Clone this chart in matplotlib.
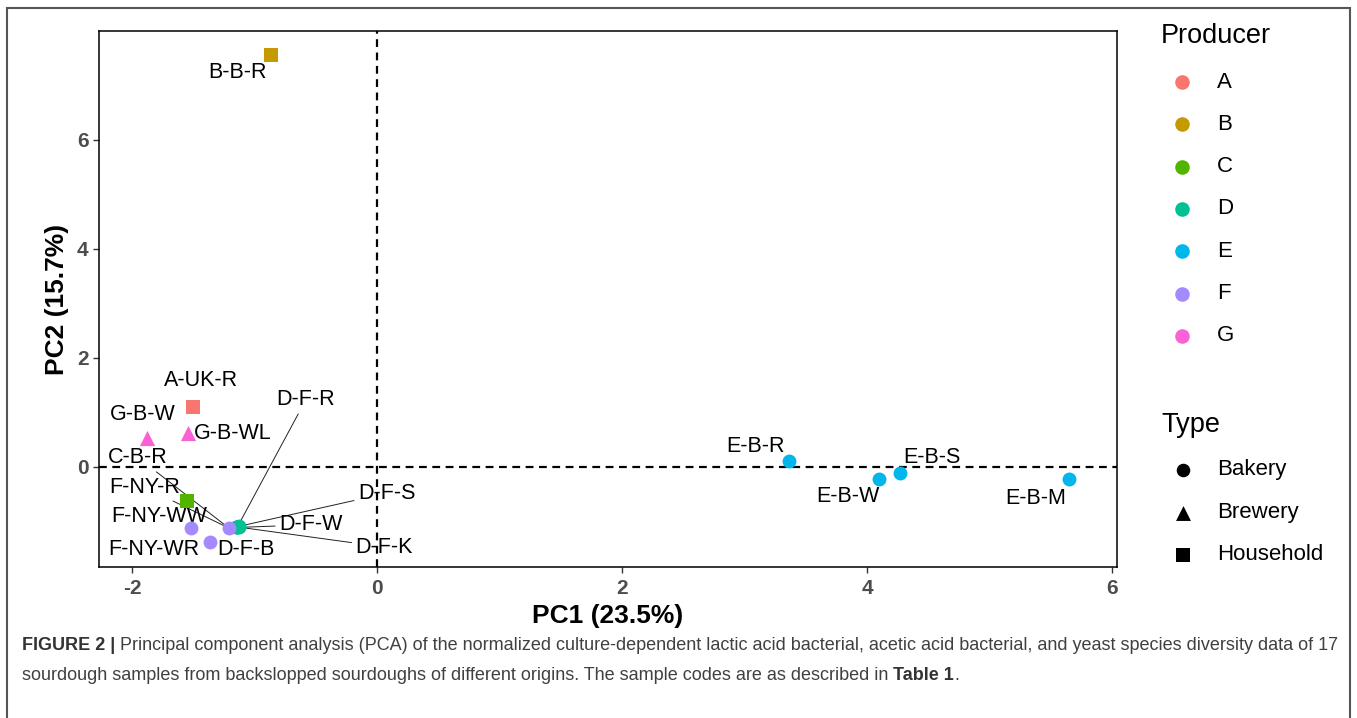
import matplotlib
matplotlib.use("Agg")
import matplotlib.pyplot as plt
from matplotlib.patches import Rectangle

plt.rcParams['font.family'] = ['Liberation Sans', 'DejaVu Sans']
plt.rcParams['axes.unicode_minus'] = False

# sample scores on the first two principal components
samples = ['B-B-R', 'A-UK-R', 'G-B-W', 'G-B-WL', 'C-B-R',
           'D-F-R', 'D-F-S', 'D-F-W', 'D-F-K', 'D-F-B',
           'F-NY-R', 'F-NY-WW', 'F-NY-WR',
           'E-B-R', 'E-B-W', 'E-B-S', 'E-B-M']
pc1 = [-0.87, -1.50, -1.88, -1.54, -1.55,
       -1.14, -1.13, -1.15, -1.14, -1.13,
       -1.21, -1.52, -1.36,
       3.36, 4.10, 4.27, 5.65]
pc2 = [7.56, 1.10, 0.53, 0.62, -0.62,
       -1.10, -1.09, -1.11, -1.10, -1.10,
       -1.12, -1.12, -1.38,
       0.11, -0.22, -0.11, -0.22]
producer = ['B', 'A', 'G', 'G', 'C',
            'D', 'D', 'D', 'D', 'D',
            'F', 'F', 'F',
            'E', 'E', 'E', 'E']
stype = ['Household', 'Household', 'Brewery', 'Brewery', 'Household',
         'Bakery', 'Bakery', 'Bakery', 'Bakery', 'Bakery',
         'Bakery', 'Bakery', 'Bakery',
         'Bakery', 'Bakery', 'Bakery', 'Bakery']

producers = ['A', 'B', 'C', 'D', 'E', 'F', 'G']
types = ['Bakery', 'Brewery', 'Household']

# ggplot default hue palette
colors = dict(zip(producers, ['#F8766D', '#C49A00', '#53B400', '#00C094',
                              '#00B6EB', '#A58AFF', '#FB61D7']))
markers = {'Bakery': 'o', 'Brewery': '^', 'Household': 's'}

# label placement (repel-style), and which point the leader line goes to
label_pos = {
    'B-B-R': (-1.14, 7.23), 'A-UK-R': (-1.44, 1.58), 'G-B-W': (-1.91, 0.97),
    'G-B-WL': (-1.18, 0.62), 'C-B-R': (-1.95, 0.17), 'F-NY-R': (-1.90, -0.37),
    'F-NY-WW': (-1.78, -0.90), 'F-NY-WR': (-1.82, -1.52), 'D-F-B': (-1.07, -1.52),
    'D-F-R': (-0.58, 1.24), 'D-F-S': (0.08, -0.48), 'D-F-W': (-0.54, -1.06),
    'D-F-K': (0.06, -1.47),
    'E-B-R': (3.09, 0.37), 'E-B-W': (3.84, -0.55), 'E-B-S': (4.53, 0.17),
    'E-B-M': (5.38, -0.57),
}
leaders = {'C-B-R': 'F-NY-R', 'F-NY-R': 'F-NY-R', 'D-F-R': 'D-F-R',
           'D-F-S': 'D-F-S', 'D-F-W': 'D-F-W', 'D-F-K': 'D-F-K'}

W, H = 1357, 718
fig = plt.figure(figsize=(W / 100, H / 100), dpi=100)

# outer frame of the figure panel
fig.patches.append(Rectangle((7 / W, -0.01), (1350 - 7) / W, (H - 8) / H + 0.01,
                             transform=fig.transFigure, fill=False,
                             edgecolor='#555555', linewidth=1.5))

ax = fig.add_axes([99 / W, (H - 567) / H, (1117 - 99) / W, (567 - 31) / H])
ax.set_xlim(-2.27, 6.04)
ax.set_ylim(-1.835, 8.0)

ax.axhline(0, color='black', lw=1.6, ls=(0, (3.5, 2.5)), zorder=1)
ax.axvline(0, color='black', lw=1.6, ls=(0, (3.5, 2.5)), zorder=1)

LBL = 15.5
idx = {s: i for i, s in enumerate(samples)}
for s in samples:
    lx, ly = label_pos[s]
    if s in leaders:
        j = idx[leaders[s]]
        ax.annotate(s, xy=(pc1[j], pc2[j]), xytext=(lx, ly), fontsize=LBL,
                    ha='center', va='center', zorder=2,
                    arrowprops=dict(arrowstyle='-', lw=0.7, color='#222222',
                                    shrinkA=1, shrinkB=0))
    else:
        ax.text(lx, ly, s, fontsize=LBL, ha='center', va='center', zorder=2)

for i, s in enumerate(samples):
    ms = 100 if stype[i] != 'Brewery' else 120
    ax.scatter(pc1[i], pc2[i], s=ms, marker=markers[stype[i]],
               color=colors[producer[i]], linewidths=0, zorder=3)

ax.set_xticks([-2, 0, 2, 4, 6])
ax.set_yticks([0, 2, 4, 6])
ax.tick_params(direction='out', length=4, width=1, color='#333333',
               labelsize=15, labelcolor='#4D4D4D')
ax.tick_params(axis='x', pad=5)
for t in ax.get_xticklabels() + ax.get_yticklabels():
    t.set_fontweight('bold')
for sp in ax.spines.values():
    sp.set_linewidth(1.1)
ax.set_xlabel('PC1 (23.5%)', fontsize=19, fontweight='bold', labelpad=4)
ax.set_ylabel('PC2 (15.7%)', fontsize=19, fontweight='bold', labelpad=6)

# legends drawn on a pixel-coordinate overlay
lg = fig.add_axes([0, 0, 1, 1], facecolor='none')
lg.set_xlim(0, W)
lg.set_ylim(H, 0)
lg.axis('off')
lg.text(1161, 36, 'Producer', fontsize=19.5, va='center', ha='left')
for k, p in enumerate(producers):
    y = 82 + k * 42.3
    lg.scatter(1182, y, s=110, color=colors[p], marker='o', linewidths=0)
    lg.text(1217, y, p, fontsize=16, va='center', ha='left')
lg.text(1161, 425, 'Type', fontsize=19.5, va='center', ha='left')
for k, t in enumerate(types):
    y = 470 + k * 42.5
    lg.scatter(1183, y, s=95 if t != 'Brewery' else 115, color='black',
               marker=markers[t], linewidths=0)
    lg.text(1217, y, t, fontsize=16, va='center', ha='left')

# caption
CAP = 13
cap1 = 'FIGURE 2 |'
cap2 = (' Principal component analysis (PCA) of the normalized culture-dependent '
        'lactic acid bacterial, acetic acid bacterial, and yeast species diversity data of 17')
cap3a = 'sourdough samples from backslopped sourdoughs of different origins. The sample codes are as described in '
renderer = fig.canvas.get_renderer()
t1 = lg.text(22, 646, cap1, fontsize=CAP, fontweight='bold', color='#333333', va='center')
bb = t1.get_window_extent(renderer)
lg.text(22 + bb.width, 646, cap2, fontsize=CAP, color='#404040', va='center')
t3 = lg.text(22, 675, cap3a, fontsize=CAP, color='#404040', va='center')
bb3 = t3.get_window_extent(renderer)
t4 = lg.text(22 + bb3.width, 675, 'Table 1', fontsize=CAP, fontweight='bold',
             color='#333333', va='center')
bb4 = t4.get_window_extent(renderer)
lg.text(22 + bb3.width + bb4.width, 675, '.', fontsize=CAP, color='#404040', va='center')

fig.savefig('out.png', dpi=100)
